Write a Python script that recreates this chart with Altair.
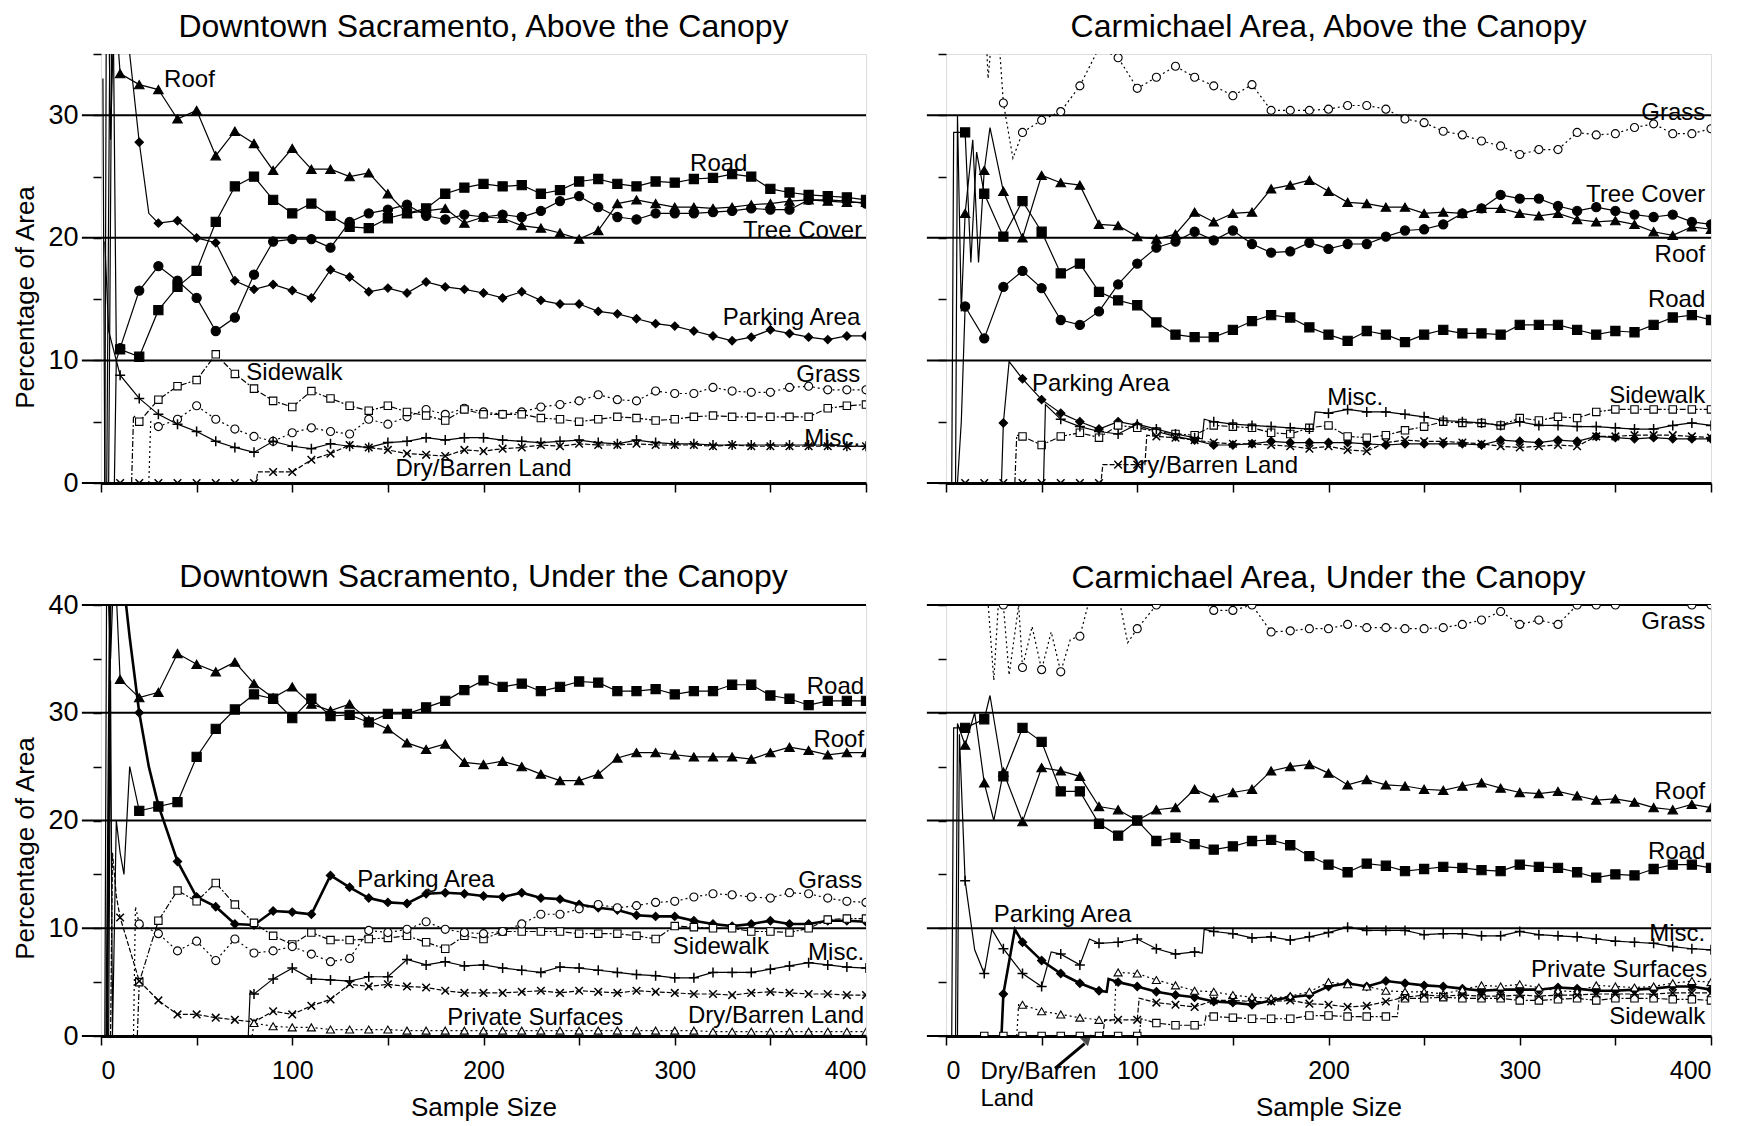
import altair as alt
import pandas as pd

FONT = "Liberation Sans"
X = list(range(10, 401, 10))

# ---------------- Downtown Sacramento, Above the Canopy ----------------
DA_ROOF = [33.4, 32.5, 32.1, 29.7, 30.4, 26.7, 28.7, 27.7, 25.5, 27.3,
           25.6, 25.6, 25.0, 25.3, 23.6, 22.0, 22.2, 22.4, 21.2, 21.7,
           21.6, 21.0, 20.8, 20.4, 19.9, 20.6, 22.8, 23.1, 22.8, 22.5,
           22.5, 22.4, 22.5, 22.7, 22.8, 23.0, 23.1, 23.0, 22.9, 22.9]
DA_ROAD = [10.9, 10.3, 14.1, 16.0, 17.3, 21.3, 24.2, 25.0, 23.1, 22.0,
           22.8, 21.8, 20.9, 20.8, 21.6, 22.0, 22.4, 23.6, 24.1, 24.4,
           24.2, 24.3, 23.6, 23.9, 24.6, 24.8, 24.4, 24.2, 24.6, 24.5,
           24.8, 24.9, 25.2, 25.0, 24.0, 23.7, 23.5, 23.4, 23.3, 23.1]
DA_TREE = [11.0, 15.7, 17.7, 16.5, 15.1, 12.4, 13.5, 17.0, 19.7, 19.9,
           19.9, 19.2, 21.3, 22.0, 22.3, 22.7, 21.8, 21.5, 21.9, 21.7,
           21.9, 21.7, 22.2, 23.0, 23.4, 22.5, 21.7, 21.5, 22.0, 22.0,
           22.0, 22.1, 22.2, 22.4, 22.3, 22.3, 23.1, 23.1, 23.0, 22.8]
DA_PARK = [40.0, 27.8, 21.2, 21.4, 20.0, 19.6, 16.5, 15.8, 16.2, 15.7,
           15.1, 17.4, 16.8, 15.6, 15.9, 15.5, 16.4, 16.0, 15.8, 15.5,
           15.1, 15.6, 14.9, 14.6, 14.6, 14.0, 13.8, 13.4, 13.0, 12.8,
           12.4, 12.0, 11.6, 11.9, 12.5, 12.2, 11.9, 11.7, 12.0, 12.0]
DA_GRASS = [None, None, 4.6, 5.2, 6.3, 5.2, 4.4, 3.8, 3.4, 4.1,
            4.5, 4.2, 4.0, 5.2, 4.8, 5.4, 6.0, 5.6, 6.1, 5.8,
            5.6, 5.8, 6.2, 6.4, 6.7, 7.2, 6.8, 6.7, 7.5, 7.3,
            7.3, 7.8, 7.5, 7.4, 7.4, 7.8, 7.9, 7.6, 7.6, 7.6]
DA_SIDE = [None, 5.0, 6.8, 7.9, 8.4, 10.5, 8.9, 7.7, 6.7, 6.2,
           7.5, 6.9, 6.3, 5.9, 6.3, 5.8, 5.5, 5.1, 6.0, 5.6,
           5.6, 5.6, 5.3, 5.2, 5.0, 5.2, 5.4, 5.3, 5.1, 5.2,
           5.4, 5.5, 5.4, 5.4, 5.4, 5.4, 5.4, 6.1, 6.3, 6.4]
DA_MISC = [8.8, 6.9, 5.6, 4.8, 4.2, 3.4, 2.9, 2.5, 3.4, 3.0,
           2.8, 3.2, 3.0, 2.9, 3.3, 3.4, 3.7, 3.5, 3.7, 3.7,
           3.5, 3.4, 3.3, 3.4, 3.5, 3.3, 3.2, 3.5, 3.3, 3.2,
           3.2, 3.1, 3.1, 3.1, 3.1, 3.1, 3.1, 3.1, 3.0, 3.0]
DA_DRY = [0.0, 0.0, 0.0, 0.0, 0.0, 0.0, 0.0, 0.0, 0.9, 0.9,
          1.9, 2.4, 3.1, 2.9, 2.7, 2.4, 2.3, 2.2, 2.7, 2.6,
          2.8, 2.9, 3.1, 3.0, 3.2, 3.1, 3.1, 3.2, 3.1, 3.1,
          3.1, 3.0, 3.1, 3.0, 3.0, 3.0, 3.0, 3.0, 3.0, 3.0]
DA_ROOF_EX = [(2, 0.0), (3, 50.0), (5, 28.0), (7, 40.0)]
DA_ROAD_EX = [(1, 33.0), (2, 0.0), (4, 0.0), (6, 45.0), (8, 11.0)]
DA_TREE_EX = [(4, 0.0), (7, 0.0), (8, 10.0)]
DA_PARK_EX = [(3, 0.0), (5, 45.0), (15, 35.0), (25, 22.0)]
DA_GRASS_EX = [(25, 0.0), (26, 5.0)]
DA_SIDE_EX = [(16, 0.0), (17, 5.5)]
DA_MISC_EX = [(2, 19.7), (4, 12.4)]
DA_DRY_EX = [(81, 0.0), (82, 0.9)]

# ---------------- Carmichael Area, Above the Canopy ----------------
CA_ROAD = [28.6, 23.6, 20.1, 23.0, 20.5, 17.1, 17.9, 15.6, 14.9, 14.5,
           13.1, 12.1, 11.9, 11.9, 12.5, 13.2, 13.7, 13.5, 12.7, 12.1,
           11.6, 12.4, 12.1, 11.5, 12.1, 12.5, 12.2, 12.2, 12.1, 12.9,
           12.9, 12.9, 12.5, 12.1, 12.4, 12.3, 12.9, 13.5, 13.7, 13.3]
CA_ROOF = [22.0, 25.5, 23.8, 20.0, 25.1, 24.5, 24.3, 21.1, 21.0, 20.1,
           19.9, 20.3, 22.1, 21.3, 22.0, 22.1, 24.0, 24.3, 24.7, 23.8,
           22.9, 22.8, 22.5, 22.5, 22.0, 22.1, 22.0, 22.4, 22.4, 22.0,
           21.8, 22.0, 21.5, 21.3, 21.4, 21.1, 20.5, 20.2, 20.9, 20.7]
CA_TREE = [14.4, 11.8, 16.0, 17.3, 15.9, 13.3, 12.9, 14.0, 16.2, 17.9,
           19.2, 19.7, 20.5, 19.8, 20.6, 19.5, 18.8, 18.9, 19.6, 19.1,
           19.5, 19.5, 20.1, 20.6, 20.7, 21.1, 22.0, 22.4, 23.5, 23.2,
           23.2, 22.6, 22.2, 22.5, 22.2, 21.9, 21.7, 21.9, 21.3, 21.1]
CA_GRASS = [38.0, 40.0, 31.0, 28.6, 29.6, 30.3, 32.4, 35.5, 34.7, 32.2,
            33.1, 34.0, 33.1, 32.4, 31.6, 32.5, 30.4, 30.4, 30.4, 30.5,
            30.8, 30.8, 30.5, 29.7, 29.4, 28.7, 28.4, 27.9, 27.5, 26.8,
            27.2, 27.2, 28.6, 28.4, 28.5, 29.0, 29.3, 28.5, 28.5, 28.9]
CA_PARK = [None, None, 4.9, 8.5, 6.8, 5.7, 5.0, 4.4, 5.0, 4.7,
           4.2, 3.8, 3.5, 3.1, 3.1, 3.2, 3.4, 3.3, 3.3, 3.3,
           3.3, 3.2, 3.1, 3.2, 3.2, 3.2, 3.2, 3.1, 3.5, 3.4,
           3.3, 3.5, 3.4, 3.8, 3.7, 3.6, 3.7, 3.6, 3.6, 3.6]
CA_SIDE = [None, None, None, 3.8, 3.1, 3.8, 4.1, 3.7, 4.7, 4.5,
           4.2, 4.0, 3.9, 4.7, 4.6, 4.5, 4.1, 4.0, 4.5, 4.7,
           3.8, 3.7, 3.9, 4.3, 4.6, 5.0, 4.9, 4.9, 4.7, 5.3,
           5.1, 5.4, 5.3, 5.8, 6.0, 6.0, 6.0, 6.0, 6.0, 6.0]
CA_MISC = [None, None, None, None, None, 5.2, 4.6, 4.2, 4.0, 4.8,
           4.4, 4.0, 3.7, 5.0, 4.8, 4.7, 4.6, 4.5, 4.4, 5.7,
           6.0, 5.8, 5.8, 5.6, 5.4, 5.1, 5.0, 4.9, 4.7, 5.0,
           4.7, 4.7, 4.6, 4.6, 4.5, 4.4, 4.4, 4.7, 4.9, 4.7]
CA_DRY = [0.0, 0.0, 0.0, 0.0, 0.0, 0.0, 0.0, 0.0, 1.5, 1.5,
          3.8, 3.7, 3.5, 3.3, 3.2, 3.2, 3.1, 3.0, 2.8, 3.0,
          2.7, 2.6, 3.3, 3.5, 3.4, 3.4, 3.3, 3.2, 3.0, 2.9,
          3.0, 3.1, 3.0, 3.8, 3.8, 3.9, 3.9, 3.9, 3.8, 3.7]
CA_ROAD_EX = [(3, 0.0), (4, 28.6), (8, 28.6), (13, 18.0), (16, 27.0)]
CA_ROOF_EX = [(5, 0.0), (6, 30.0), (8, 14.0), (14, 28.0), (17, 18.0), (23, 29.0)]
CA_TREE_EX = [(6, 0.0), (8, 5.0)]
CA_GRASS_EX = [(15, 45.0), (22, 33.0), (26, 40.0), (35, 26.5)]
CA_PARK_EX = [(29, 0.0), (33, 9.9)]
CA_SIDE_EX = [(36, 0.0), (37, 3.9)]
CA_MISC_EX = [(51, 0.0), (52, 6.4), (134, 3.6), (135, 5.2), (192, 4.4), (193, 5.8)]
CA_DRY_EX = [(81, 0.0), (82, 1.5), (104, 1.5), (105, 3.9)]

# ---------------- Downtown Sacramento, Under the Canopy ----------------
DU_ROOF = [33.1, 31.4, 31.9, 35.5, 34.5, 33.8, 34.7, 32.7, 31.4, 32.4,
           30.8, 30.2, 30.8, 29.3, 28.5, 27.2, 26.6, 27.1, 25.4, 25.2,
           25.5, 25.0, 24.3, 23.7, 23.7, 24.3, 25.8, 26.3, 26.3, 26.1,
           25.9, 25.9, 25.9, 25.7, 26.3, 26.8, 26.5, 26.1, 26.3, 26.3]
DU_ROAD = [None, 20.9, 21.3, 21.7, 25.9, 28.5, 30.3, 31.7, 31.3, 29.5,
           31.3, 29.7, 29.8, 29.1, 29.9, 29.9, 30.5, 31.1, 32.1, 33.0,
           32.4, 32.7, 32.0, 32.4, 32.9, 32.8, 32.0, 32.0, 32.2, 31.7,
           32.0, 32.0, 32.6, 32.6, 31.6, 31.3, 30.7, 31.1, 31.1, 31.1]
DU_PARK = [45.0, 30.0, 21.4, 16.2, 12.9, 12.0, 10.4, 10.3, 11.6, 11.5,
           11.3, 14.9, 13.8, 12.8, 12.4, 12.3, 13.2, 13.3, 13.2, 13.0,
           12.9, 13.3, 12.8, 12.7, 12.2, 11.9, 11.7, 11.2, 11.1, 11.1,
           10.7, 10.4, 10.2, 10.4, 10.7, 10.4, 10.4, 10.7, 10.7, 10.6]
DU_SIDE = [None, 5.0, 10.7, 13.5, 12.5, 14.2, 12.2, 10.5, 9.3, 8.5,
           9.6, 8.9, 8.9, 9.0, 9.1, 9.3, 8.7, 8.1, 9.3, 9.0,
           9.7, 9.7, 9.7, 9.7, 9.5, 9.5, 9.5, 9.3, 9.0, 10.2,
           10.1, 10.0, 10.0, 9.7, 9.7, 9.6, 10.0, 10.8, 10.9, 10.9]
DU_GRASS = [None, 10.4, 9.5, 7.9, 8.8, 7.0, 9.0, 7.7, 7.9, 8.3,
            7.6, 6.9, 7.2, 9.8, 9.6, 9.9, 10.6, 9.9, 9.6, 9.5,
            9.7, 10.4, 11.3, 11.3, 11.8, 12.2, 11.9, 12.1, 12.4, 12.5,
            12.9, 13.2, 13.1, 12.9, 12.8, 13.3, 13.2, 12.8, 12.5, 12.4]
DU_MISC = [None, None, None, None, None, None, None, 3.9, 5.3, 6.3,
           5.3, 5.2, 5.1, 5.5, 5.5, 7.1, 6.6, 6.9, 6.5, 6.6,
           6.3, 6.1, 5.9, 6.4, 6.3, 6.1, 5.9, 5.7, 5.6, 5.4,
           5.4, 5.9, 5.9, 5.9, 6.2, 6.5, 6.8, 6.6, 6.4, 6.3]
DU_DRY = [11.0, 5.1, 3.3, 2.0, 2.0, 1.7, 1.5, 1.3, 2.3, 2.0,
          2.8, 3.4, 4.8, 4.6, 4.8, 4.6, 4.5, 4.2, 4.0, 4.0,
          4.0, 4.1, 4.2, 4.0, 4.2, 4.1, 4.0, 4.2, 4.1, 4.0,
          3.9, 3.9, 3.8, 4.0, 4.1, 4.0, 3.9, 3.9, 3.8, 3.8]
DU_PRIV = [None, None, None, None, None, None, None, 1.2, 0.9, 0.8,
           0.8, 0.6, 0.6, 0.6, 0.6, 0.5, 0.5, 0.5, 0.5, 0.5,
           0.5, 0.5, 0.5, 0.5, 0.5, 0.5, 0.5, 0.5, 0.5, 0.5,
           0.5, 0.4, 0.4, 0.4, 0.4, 0.4, 0.4, 0.4, 0.4, 0.4]
DU_ROOF_EX = [(2, 0.0), (3, 45.0), (5, 35.0), (7, 45.0)]
DU_ROAD_EX = [(4, 0.0), (5, 33.0), (6, 0.0), (8, 20.0), (10, 17.0), (12, 15.0), (15, 25.0)]
DU_PARK_EX = [(3, 0.0), (5, 45.0), (15, 37.0), (25, 25.0)]
DU_SIDE_EX = [(19, 0.0)]
DU_GRASS_EX = [(17, 0.0), (18, 12.0)]
DU_DRY_EX = [(5, 0.0), (6, 17.0), (8, 13.0)]
DU_MISC_EX = [(77, 0.0), (78, 4.2)]
DU_PRIV_EX = [(79, 0.0)]

# ---------------- Carmichael Area, Under the Canopy ----------------
CU_ROAD = [28.6, 29.4, 24.1, 28.6, 27.3, 22.7, 22.7, 19.7, 18.6, 20.0,
           18.1, 18.4, 17.8, 17.3, 17.6, 18.1, 18.2, 17.7, 16.7, 15.9,
           15.2, 16.0, 15.8, 15.3, 15.5, 15.7, 15.6, 15.4, 15.3, 15.9,
           15.7, 15.6, 15.2, 14.7, 15.0, 14.9, 15.5, 15.9, 15.9, 15.6]
CU_ROOF = [27.0, 23.5, 24.5, 19.9, 24.9, 24.6, 24.1, 21.3, 21.0, 20.0,
           21.0, 21.2, 22.9, 22.1, 22.6, 22.9, 24.6, 25.0, 25.2, 24.4,
           23.3, 23.8, 23.3, 23.2, 22.9, 22.8, 23.2, 23.5, 23.0, 22.6,
           22.5, 22.7, 22.3, 21.9, 22.0, 21.7, 21.2, 21.0, 21.5, 21.2]
CU_GRASS = [None, 45.0, 40.0, 34.2, 34.0, 33.8, 37.1, 42.0, 41.0, 37.8,
            40.0, 42.0, 41.0, 39.5, 39.5, 40.0, 37.5, 37.6, 37.8, 37.8,
            38.2, 37.9, 37.9, 37.8, 37.8, 37.9, 38.2, 38.6, 39.4, 38.2,
            38.6, 38.2, 40.0, 40.0, 40.0, 40.3, 40.3, 40.2, 40.0, 40.0]
CU_PARK = [None, None, 3.9, 8.7, 7.0, 5.8, 4.9, 4.2, 5.0, 4.6,
           4.1, 3.8, 3.6, 3.2, 3.1, 2.9, 3.3, 3.6, 3.8, 4.6,
           4.9, 4.6, 5.1, 4.9, 4.7, 4.6, 4.4, 4.2, 4.3, 4.3,
           4.3, 4.5, 4.4, 4.2, 4.2, 4.3, 4.4, 4.6, 4.6, 4.3]
CU_MISC = [14.4, 5.8, 8.1, 5.8, 4.6, 7.6, 6.6, 8.6, 8.7, 9.0,
           8.1, 7.6, 7.8, 9.7, 9.5, 9.1, 9.2, 8.9, 9.2, 9.6,
           10.1, 9.8, 9.8, 9.8, 9.4, 9.5, 9.5, 9.3, 9.3, 9.7,
           9.4, 9.3, 9.2, 9.0, 8.8, 8.7, 8.6, 8.3, 8.1, 8.0]
CU_PRIV = [None, None, None, 2.9, 2.3, 2.0, 1.7, 1.5, 5.9, 5.8,
           5.2, 4.7, 4.2, 4.1, 3.8, 3.6, 3.5, 3.7, 4.1, 5.0,
           4.8, 4.6, 4.2, 4.1, 4.1, 3.9, 4.3, 4.7, 4.6, 4.8,
           4.5, 4.2, 4.1, 4.7, 4.6, 4.5, 4.6, 4.9, 5.1, 5.0]
CU_SIDE = [None, 0.0, 0.0, 0.0, 0.0, 0.0, 0.0, 0.0, 0.0, 0.0,
           1.2, 1.0, 1.0, 1.8, 1.7, 1.6, 1.6, 1.6, 1.9, 1.9,
           1.8, 1.8, 1.8, 3.5, 3.5, 3.6, 3.5, 3.5, 3.5, 3.3,
           3.3, 3.4, 3.5, 3.3, 3.5, 3.5, 3.5, 3.4, 3.4, 3.3]
CU_DRY = [None, None, None, None, None, None, None, None, 1.5, 1.5,
          3.1, 2.9, 2.7, 3.3, 3.3, 3.2, 3.2, 3.3, 3.0, 2.9,
          2.7, 2.8, 3.2, 3.6, 3.8, 3.7, 3.8, 3.7, 3.7, 3.8,
          3.7, 3.8, 3.8, 3.9, 3.9, 3.9, 3.9, 4.0, 4.0, 4.0]
CU_ROAD_EX = [(3, 0.0), (4, 28.6), (8, 28.6), (23, 31.6)]
CU_ROOF_EX = [(5, 0.0), (6, 29.0), (15, 30.0), (25, 20.0)]
CU_GRASS_EX = [(25, 33.0), (28, 42.0), (33, 33.5), (38, 40.0), (45, 38.0),
               (55, 37.5), (65, 36.8), (75, 40.5), (95, 36.5)]
CU_PARK_EX = [(29, 0.0), (36, 9.9), (84, 4.1), (85, 5.3)]
CU_MISC_EX = [(6, 0.0), (7, 28.0), (15, 8.0), (24, 9.9), (55, 7.8), (75, 9.0),
              (134, 7.7), (135, 9.9)]
CU_PRIV_EX = [(37, 0.0), (38, 3.0), (88, 1.4), (89, 5.9)]
CU_SIDE_EX = [(101, 0.0), (102, 1.6), (135, 1.0), (136, 1.9), (236, 1.8), (237, 3.6)]
CU_DRY_EX = [(82, 0.0), (83, 1.5), (101, 3.5)]

# label texts with their data positions (x, y, alignment)
DA_LABELS = [("Roof", 33, 32.9, "left"), ("Road", 323, 26.0, "center"),
             ("Tree Cover", 398, 20.6, "right"), ("Parking Area", 397, 13.5, "right"),
             ("Sidewalk", 76, 9.0, "left"), ("Grass", 397, 8.8, "right"),
             ("Misc.", 397, 3.6, "right"), ("Dry/Barren Land", 154, 1.15, "left")]
CA_LABELS = [("Grass", 397, 30.2, "right"), ("Tree Cover", 397, 23.5, "right"),
             ("Roof", 397, 18.6, "right"), ("Road", 397, 14.9, "right"),
             ("Parking Area", 45, 8.1, "left"), ("Misc.", 214, 6.9, "center"),
             ("Sidewalk", 397, 7.1, "right"), ("Dry/Barren Land", 92, 1.4, "left")]
DU_LABELS = [("Road", 399, 32.4, "right"), ("Roof", 399, 27.5, "right"),
             ("Parking Area", 134, 14.5, "left"), ("Grass", 398, 14.4, "right"),
             ("Sidewalk", 299, 8.3, "left"), ("Misc.", 399, 7.7, "right"),
             ("Private Surfaces", 181, 1.7, "left"), ("Dry/Barren Land", 399, 1.9, "right")]
CU_LABELS = [("Grass", 397, 38.4, "right"), ("Roof", 397, 22.6, "right"),
             ("Road", 397, 17.1, "right"), ("Parking Area", 25, 11.2, "left"),
             ("Misc.", 397, 9.5, "right"), ("Private Surfaces", 398, 6.1, "right"),
             ("Sidewalk", 397, 1.8, "right"), ("Dry/Barren", 18, -3.3, "left"),
             ("Land", 18, -5.85, "left")]
CU_ARROW = [{"x": 57, "y": -3.0, "x2": 72.5, "y2": -0.7}]
CU_ARROW_HEAD = [{"x": 74.0, "y": -0.2}]

PLUS = "M-1,0L1,0M0,-1L0,1"
XMARK = "M-0.8,-0.8L0.8,0.8M-0.8,0.8L0.8,-0.8"
STYLE = {
    "Roof": dict(shape="triangle-up", fill="black", size=90, dash=None),
    "Road": dict(shape="square", fill="black", size=85, dash=None),
    "Tree Cover": dict(shape="circle", fill="black", size=85, dash=None),
    "Parking Area": dict(shape="diamond", fill="black", size=70, dash=None),
    "Grass": dict(shape="circle", fill="white", size=65, dash=[2, 3]),
    "Sidewalk": dict(shape="square", fill="white", size=55, dash=[6, 2, 2, 2]),
    "Misc.": dict(shape=PLUS, fill=None, size=100, dash=None),
    "Dry/Barren Land": dict(shape=XMARK, fill=None, size=90, dash=[5, 2]),
    "Private Surfaces": dict(shape="triangle-up", fill="white", size=65, dash=[2, 3]),
}


def build_panel(title, ymax, height, series, labels, bottom, left, thick=(), arrow=False,
                title_offset=-23):
    xs = alt.Scale(domain=[0, 400], nice=False, zero=False)
    ys = alt.Scale(domain=[0, ymax], nice=False, zero=False)
    xkw = dict(values=list(range(0, 401, 50)), tickSize=9, tickWidth=1.5, tickColor="black",
               domainColor="black", domainWidth=3, grid=False, labels=bottom)
    if bottom:
        xkw.update(labelExpr="datum.value % 100 === 0 ? datum.label : ''",
                   labelFontSize=25, labelPadding=13, labelFont=FONT, labelColor="black",
                   titleFontSize=26, titleFont=FONT, titleFontWeight="normal",
                   titlePadding=11, titleColor="black")
    ykw = dict(values=list(range(0, ymax + 1, 5)), tickSize=8, tickWidth=1.5,
               tickColor="black", domain=False, grid=False, labels=left)
    if left:
        ykw.update(labelExpr="datum.value % 10 === 0 ? datum.label : ''",
                   labelFontSize=27, labelPadding=15, labelFont=FONT, labelColor="black",
                   titleFontSize=26, titleFont=FONT, titleFontWeight="normal",
                   titleColor="black", titleX=-76, titleY=243, titleAngle=270,
                   titleAlign="center", titleBaseline="middle")
    xaxis = alt.Axis(**xkw)
    yaxis = alt.Axis(**ykw)
    xt = "Sample Size" if bottom else None
    yt = "Percentage of Area" if left else None

    def enc():
        return dict(x=alt.X("x:Q", scale=xs, axis=xaxis, title=xt),
                    y=alt.Y("y:Q", scale=ys, axis=yaxis, title=yt))

    grid_y = [v for v in (0, 10, 20, 30, 40) if v <= ymax]
    gdf = pd.DataFrame({"y": grid_y, "x": [-10] * len(grid_y), "x2": [400] * len(grid_y)})
    layers = [alt.Chart(gdf).mark_rule(color="black", strokeWidth=2).encode(
        x2="x2:Q", **enc())]
    for name, vals, extras in series:
        st = STYLE[name]
        pts = [(x, v) for x, v in zip(X, vals) if v is not None]
        line_pts = sorted(pts + [tuple(e) for e in extras])
        ldf = pd.DataFrame(line_pts, columns=["x", "y"])
        pdf = pd.DataFrame([p for p in pts if p[1] <= ymax + 0.01], columns=["x", "y"])
        lkw = dict(color="black", strokeWidth=2.6 if name in thick else 1.2, clip=True)
        if st["dash"]:
            lkw["strokeDash"] = st["dash"]
        layers.append(alt.Chart(ldf).mark_line(**lkw).encode(**enc()))
        pkw = dict(shape=st["shape"], size=st["size"], clip=True, opacity=1)
        if st["fill"] is None:
            pkw.update(filled=False, stroke="black", strokeWidth=1.5)
        else:
            pkw.update(filled=True, fill=st["fill"], stroke="black", strokeWidth=1.1)
        layers.append(alt.Chart(pdf).mark_point(**pkw).encode(**enc()))
    for txt, lx, ly, al in labels:
        tdf = pd.DataFrame({"x": [lx], "y": [ly], "t": [txt]})
        layers.append(alt.Chart(tdf).mark_text(
            align=al, baseline="middle", font=FONT, fontSize=24, color="black").encode(
            text="t:N", **enc()))
    if arrow:
        layers.append(alt.Chart(pd.DataFrame(CU_ARROW)).mark_rule(
            color="black", strokeWidth=3).encode(x2="x2:Q", y2="y2:Q", **enc()))
        layers.append(alt.Chart(pd.DataFrame(CU_ARROW_HEAD)).mark_point(
            shape="triangle-up", size=150, filled=True, color="black", angle=46
        ).encode(**enc()))
    return alt.layer(*layers).properties(
        width=765, height=height,
        title=alt.TitleParams(title, fontSize=32, font=FONT, fontWeight="normal",
                              color="black", anchor="middle", baseline="bottom",
                              offset=title_offset))


p1 = build_panel("Downtown Sacramento, Above the Canopy", 35, 429, [
    ("Roof", DA_ROOF, DA_ROOF_EX), ("Road", DA_ROAD, DA_ROAD_EX),
    ("Tree Cover", DA_TREE, DA_TREE_EX), ("Parking Area", DA_PARK, DA_PARK_EX),
    ("Grass", DA_GRASS, DA_GRASS_EX), ("Sidewalk", DA_SIDE, DA_SIDE_EX),
    ("Misc.", DA_MISC, DA_MISC_EX), ("Dry/Barren Land", DA_DRY, DA_DRY_EX)],
    DA_LABELS, bottom=False, left=True)
p2 = build_panel("Carmichael Area, Above the Canopy", 35, 429, [
    ("Grass", CA_GRASS, CA_GRASS_EX), ("Roof", CA_ROOF, CA_ROOF_EX),
    ("Road", CA_ROAD, CA_ROAD_EX), ("Tree Cover", CA_TREE, CA_TREE_EX),
    ("Parking Area", CA_PARK, CA_PARK_EX), ("Sidewalk", CA_SIDE, CA_SIDE_EX),
    ("Misc.", CA_MISC, CA_MISC_EX), ("Dry/Barren Land", CA_DRY, CA_DRY_EX)],
    CA_LABELS, bottom=False, left=False)
p3 = build_panel("Downtown Sacramento, Under the Canopy", 40, 431, [
    ("Roof", DU_ROOF, DU_ROOF_EX), ("Road", DU_ROAD, DU_ROAD_EX),
    ("Parking Area", DU_PARK, DU_PARK_EX), ("Sidewalk", DU_SIDE, DU_SIDE_EX),
    ("Grass", DU_GRASS, DU_GRASS_EX), ("Misc.", DU_MISC, DU_MISC_EX),
    ("Dry/Barren Land", DU_DRY, DU_DRY_EX), ("Private Surfaces", DU_PRIV, DU_PRIV_EX)],
    DU_LABELS, bottom=True, left=True, thick=("Parking Area",), title_offset=-35)
p4 = build_panel("Carmichael Area, Under the Canopy", 40, 431, [
    ("Grass", CU_GRASS, CU_GRASS_EX), ("Roof", CU_ROOF, CU_ROOF_EX),
    ("Road", CU_ROAD, CU_ROAD_EX), ("Parking Area", CU_PARK, CU_PARK_EX),
    ("Misc.", CU_MISC, CU_MISC_EX), ("Private Surfaces", CU_PRIV, CU_PRIV_EX),
    ("Sidewalk", CU_SIDE, CU_SIDE_EX), ("Dry/Barren Land", CU_DRY, CU_DRY_EX)],
    CU_LABELS, bottom=True, left=False, thick=("Parking Area",), arrow=True)

row1 = alt.hconcat(p1, p2, spacing=57).resolve_scale(x="independent", y="independent")
row2 = alt.hconcat(p3, p4, spacing=57).resolve_scale(x="independent", y="independent")
chart = alt.vconcat(row1, row2, spacing=63).resolve_scale(
    x="independent", y="independent").properties(
    padding={"left": 3, "top": 2, "right": 2, "bottom": 0}
).configure_view(stroke="black", strokeWidth=2).configure(background="white")

chart.save("out.html", embed_options={"renderer": "svg", "actions": False})
